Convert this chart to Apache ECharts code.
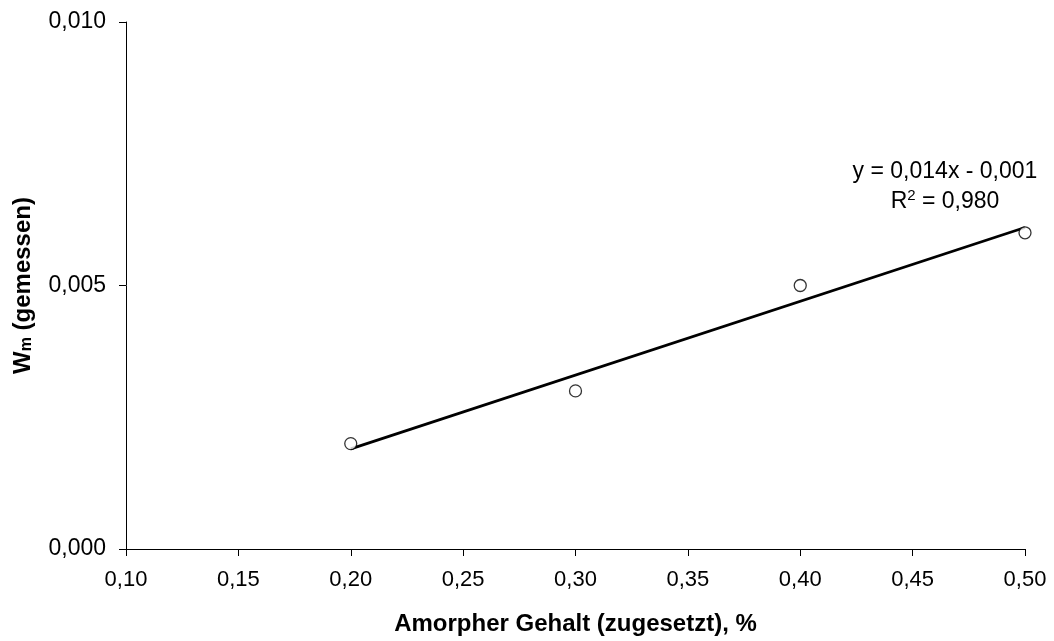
<!DOCTYPE html>
<html><head><meta charset="utf-8">
<script src="https://cdn.jsdelivr.net/npm/echarts@6/dist/echarts.min.js"></script>
<style>html,body{margin:0;padding:0;background:#fff}#c{width:1054px;height:641px}</style>
</head><body><div id="c"></div>
<script>
var xValues = [0.20, 0.30, 0.40, 0.50];
var yValues = [0.002, 0.003, 0.005, 0.006];
var xTicks = [0.10, 0.15, 0.20, 0.25, 0.30, 0.35, 0.40, 0.45, 0.50];
var yTicks = [0.000, 0.005, 0.010];
var trendText = 'y = 0,014x - 0,001';
var r2Text = '0,980';

// least-squares trendline from the data
var n = xValues.length, mx = 0, my = 0;
for (var i = 0; i < n; i++) { mx += xValues[i]; my += yValues[i]; }
mx /= n; my /= n;
var sxy = 0, sxx = 0;
for (var i = 0; i < n; i++) { sxy += (xValues[i]-mx)*(yValues[i]-my); sxx += (xValues[i]-mx)*(xValues[i]-mx); }
var slope = sxy / sxx, icpt = my - slope * mx;
var x0 = xValues[0], x1 = xValues[n-1];
var trend = [[x0, slope*x0+icpt], [x1, slope*x1+icpt]];

var F = 'Liberation Sans, Arial, sans-serif';
var chart = echarts.init(document.getElementById('c'));
chart.setOption({
  animation: false,
  grid: {left: 126, right: 29, top: 22, bottom: 89},
  xAxis: {
    type: 'value', min: xTicks[0], max: xTicks[xTicks.length-1], interval: 0.05,
    splitLine: {show: false},
    axisLine: {lineStyle: {color: '#000', width: 1}},
    axisTick: {show: true, length: 7, inside: false, lineStyle: {color: '#000'}},
    axisLabel: {color: '#000', fontFamily: F, fontSize: 22, margin: 20,
      formatter: function(v){ return v.toFixed(2).replace('.', ','); }},
    name: 'Amorpher Gehalt (zugesetzt), %', nameLocation: 'middle', nameGap: 63,
    nameTextStyle: {color: '#000', fontFamily: F, fontSize: 24, fontWeight: 'bold'}
  },
  yAxis: {
    type: 'value', min: yTicks[0], max: yTicks[yTicks.length-1], interval: 0.005,
    splitLine: {show: false},
    axisLine: {show: true, lineStyle: {color: '#000', width: 1}},
    axisTick: {show: true, length: 7, lineStyle: {color: '#000'}},
    axisLabel: {color: '#000', fontFamily: F, fontSize: 23, margin: 20,
      formatter: function(v){ return v.toFixed(3).replace('.', ','); }},
    name: '{b|W}{s|m}{b| (gemessen)}', nameLocation: 'middle', nameGap: 91, nameRotate: 90,
    nameTextStyle: {color: '#000', fontFamily: F, fontSize: 24, fontWeight: 'bold',
      rich: {
        b: {fontFamily: F, fontSize: 24, fontWeight: 'bold', color: '#000'},
        s: {fontFamily: F, fontSize: 16, fontWeight: 'bold', color: '#000', verticalAlign: 'bottom', padding: [8,0,0,0]}
      }}
  },
  series: [
    {type: 'line', data: trend, symbol: 'none', lineStyle: {color: '#000', width: 2.8}, z: 2, silent: true},
    {type: 'scatter', data: xValues.map(function(x,i){return [x, yValues[i]];}),
      symbol: 'circle', symbolSize: 12,
      itemStyle: {color: '#fff', borderColor: '#000', borderWidth: 1.3}, z: 3}
  ],
  graphic: [
    {type: 'text', x: 945, y: 172, style: {text: trendText, font: '23px ' + F, fill: '#000', align: 'center', verticalAlign: 'middle'}},
    {type: 'text', x: 945, y: 201, style: {
      text: '{n|R}{p|2}{n| = ' + r2Text + '}', align: 'center', verticalAlign: 'middle',
      rich: {n: {font: '23px ' + F, fill: '#000', verticalAlign: 'bottom'},
             p: {font: '15px ' + F, fill: '#000', verticalAlign: 'top', padding: [0,0,10,0]}}}}
  ]
});
</script></body></html>
